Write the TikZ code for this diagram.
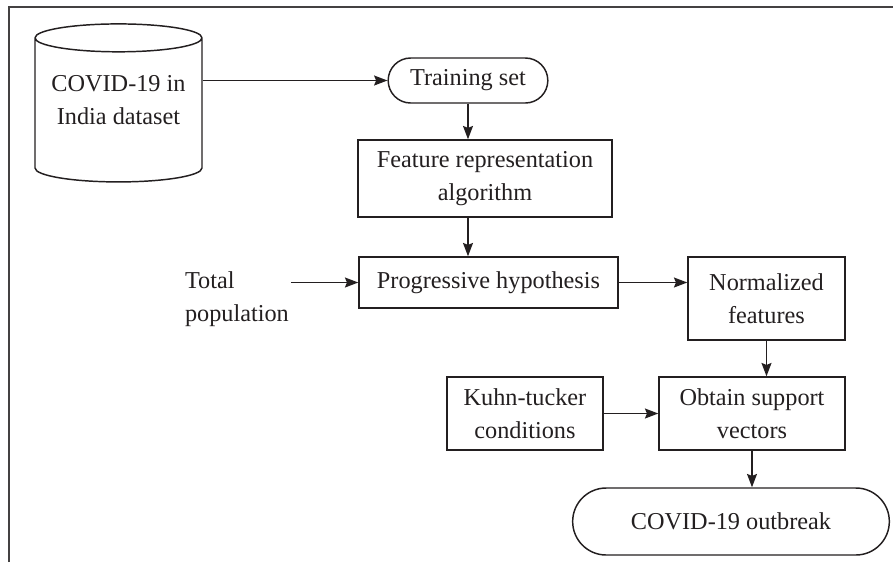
\documentclass[tikz,border=0pt]{standalone}
\usepackage{fontspec}
\setmainfont{Liberation Serif}
\usepackage{tikz}
\usetikzlibrary{positioning, shapes.geometric, shapes.misc, arrows.meta, calc}
\definecolor{ink}{HTML}{231F20}
\tikzset{
  box/.style  = {draw=ink, rectangle, align=center,
                 inner sep=2pt, text=ink},
  term/.style = {draw=ink, rounded rectangle, align=center,
                 inner sep=2pt, text=ink},
  db/.style   = {draw=ink, cylinder, shape border rotate=90,
                 aspect=0.2, align=center, inner sep=2pt},
  arr/.style  = {-{Stealth[length=10pt, width=7.5pt, inset=1.5pt]},
                 draw=ink, line width=1.1pt},
}

\begin{document}
\begin{tikzpicture}[x=0.75pt, y=-0.75pt, line width=1.1pt,
                    font=\fontsize{18.2}{24.75}\selectfont]

% ────────────────────────────────────────────────────────────
%  Pixel grid of the figure (893 x 562), y pointing down.
% ────────────────────────────────────────────────────────────
\useasboundingbox (0,0) rectangle (893,562);

% ── frame (top and left edge only) ──────────────────────────
\draw[ink!85, line width=1.5pt] (9,562) -- (9,7) -- (893,7);

% ═══════════════════════════════════════════════════════════
%  INPUT
% ═══════════════════════════════════════════════════════════
% text is lifted above the shape centre of the cylinder
\node[db, minimum width=125.25pt, minimum height=118.5pt,
      label={[align=center, text=ink, yshift=9pt]center:COVID-19 in\\India dataset}]
  (ds) at (118.5, 112) {\phantom{COVID-19 in}\\\phantom{India dataset}};

\node[term, minimum width=123.75pt, minimum height=33.75pt] (train)
  at (468, 80.5) {Training set};

\draw[arr] (ds.east |- train.west) -- (train.west);

% ═══════════════════════════════════════════════════════════
%  FEATURES
% ═══════════════════════════════════════════════════════════
\node[box, minimum width=190.5pt, minimum height=57.75pt] (feat)
  at (485, 178.5) {Feature representation\\algorithm};

\draw[arr] (train.south) -- (train.south |- feat.north);

\node[box, minimum width=194.25pt, minimum height=38.25pt] (prog)
  at (488.5, 282.5) {Progressive hypothesis};

\draw[arr] (train.south |- feat.south) -- (train.south |- prog.north);

\node[align=left, inner sep=1pt, text=ink, anchor=north west] (pop)
  at (183, 270) {Total\\population};

\draw[arr] (pop.east |- prog.west) -- (prog.west);

\node[box, minimum width=117.75pt, minimum height=62.25pt] (norm)
  at (766.5, 298.5) {Normalized\\features};

\draw[arr] (prog.east) -- (prog.east -| norm.west);

% ═══════════════════════════════════════════════════════════
%  SUPPORT VECTORS
% ═══════════════════════════════════════════════════════════
\node[box, minimum width=139.5pt, minimum height=54.75pt] (svec)
  at (752, 413.5) {Obtain support\\vectors};

\node[box, minimum width=117pt, minimum height=54.75pt] (kkt)
  at (525, 413.5) {Kuhn-tucker\\conditions};

\draw[arr] (norm.south) -- (norm.south |- svec.north);
\draw[arr] (kkt.east) -- (kkt.east -| svec.west);

\node[term, minimum width=241.5pt, minimum height=50.25pt] (out)
  at (731, 521.5) {COVID-19 outbreak};

\draw[arr] (svec.south) -- (svec.south |- out.north);

\end{tikzpicture}
\end{document}
